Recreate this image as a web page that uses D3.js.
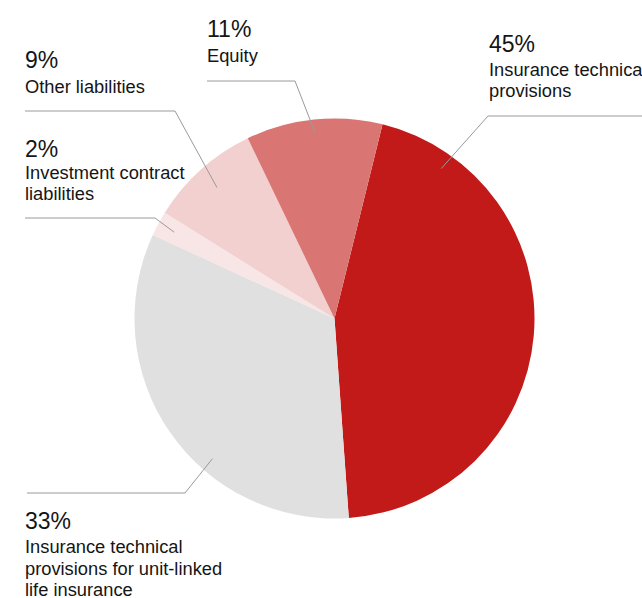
<!DOCTYPE html>
<html>
<head>
<meta charset="utf-8">
<script src="https://cdn.jsdelivr.net/npm/d3@7/dist/d3.min.js"></script>
<style>
  html, body { margin: 0; padding: 0; background: #fff; }
  svg { display: block; }
  text { font-family: "Liberation Sans", Arial, Helvetica, sans-serif; fill: #151515; }
</style>
</head>
<body>
<svg id="chart" width="642" height="598"></svg>
<script>
// Balance sheet structure, share of total (%)
const categories = [
  "Insurance technical provisions",
  "Insurance technical provisions for unit-linked life insurance",
  "Investment contract liabilities",
  "Other liabilities",
  "Equity"
];
const values = [45, 33, 2, 9, 11];
const percentLabels = ["45%", "33%", "2%", "9%", "11%"];
// Wrapped label lines as drawn
const labelLines = [
  ["Insurance technical", "provisions"],
  ["Insurance technical", "provisions for unit-linked", "life insurance"],
  ["Investment contract", "liabilities"],
  ["Other liabilities"],
  ["Equity"]
];
const colors = ["#c21a19", "#e0e0e0", "#f8e5e5", "#f2d0d0", "#d97673"];

// Layout of the callouts: leader anchor inside the slice (fraction of the
// slice's sweep, fraction of radius), elbow point, far end of the rule,
// and the text block position.
const callouts = [
  { along: 0.133, rFrac: 0.92, elbow: [488, 116], end: 642, tx: 489, pctY: 52,  firstY: 76,  lineH: 21 },
  { along: 0.38,  rFrac: 0.93, elbow: [185, 493], end: 27,  tx: 25,  pctY: 529, firstY: 553, lineH: 21.5 },
  { along: 0.5,   rFrac: 0.91, elbow: [155, 218], end: 25,  tx: 25,  pctY: 157, firstY: 179, lineH: 21 },
  { along: 0.5,   rFrac: 0.88, elbow: [175, 111], end: 25,  tx: 25,  pctY: 68,  firstY: 93,  lineH: 21 },
  { along: 0.5,   rFrac: 0.93, elbow: [295, 81],  end: 207, tx: 207, pctY: 37,  firstY: 62,  lineH: 21 }
];

const cx = 334.5, cy = 318.5, R = 200;
const startDeg = 13.9;

const svg = d3.select("#chart");
const g = svg.append("g").attr("transform", `translate(${cx},${cy})`);

const pie = d3.pie()
  .sort(null)
  .value(d => d)
  .startAngle(startDeg * Math.PI / 180)
  .endAngle((startDeg + 360) * Math.PI / 180);

const arcs = pie(values);
const arc = d3.arc().innerRadius(0).outerRadius(R);

g.selectAll("path.slice")
  .data(arcs)
  .join("path")
  .attr("class", "slice")
  .attr("d", arc)
  .attr("fill", (d, i) => colors[i]);

// Leader lines
const leaders = svg.append("g")
  .attr("fill", "none")
  .attr("stroke", "#9a9a9a")
  .attr("stroke-width", 1);

arcs.forEach((a, i) => {
  const c = callouts[i];
  const ang = a.startAngle + (a.endAngle - a.startAngle) * c.along;
  const r = R * c.rFrac;
  const ax = cx + r * Math.sin(ang);
  const ay = cy - r * Math.cos(ang);
  const pts = [[ax, ay], c.elbow, [c.end, c.elbow[1]]];
  leaders.append("path").attr("d", d3.line()(pts));
});

// Text blocks
const labels = svg.append("g");
arcs.forEach((a, i) => {
  const c = callouts[i];
  labels.append("text")
    .attr("x", c.tx)
    .attr("y", c.pctY)
    .attr("font-size", 23)
    .text(percentLabels[i]);
  labelLines[i].forEach((line, k) => {
    labels.append("text")
      .attr("x", c.tx)
      .attr("y", c.firstY + k * c.lineH)
      .attr("font-size", 18.3)
      .text(line);
  });
});
</script>
</body>
</html>
